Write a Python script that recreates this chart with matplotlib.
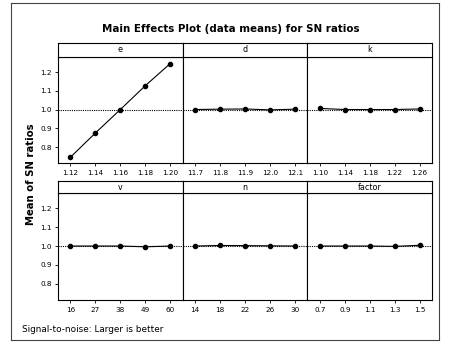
import matplotlib
matplotlib.use("Agg")
import matplotlib.pyplot as plt

factors = ["e", "d", "k", "v", "n", "factor"]
levels_e = ["1.12", "1.14", "1.16", "1.18", "1.20"]
levels_d = ["11.7", "11.8", "11.9", "12.0", "12.1"]
levels_k = ["1.10", "1.14", "1.18", "1.22", "1.26"]
levels_v = ["16", "27", "38", "49", "60"]
levels_n = ["14", "18", "22", "26", "30"]
levels_f = ["0.7", "0.9", "1.1", "1.3", "1.5"]
means_e = [0.746, 0.875, 1.000, 1.127, 1.245]
means_d = [1.000, 1.002, 1.003, 0.998, 1.002]
means_k = [1.006, 1.000, 1.000, 1.000, 1.003]
means_v = [1.000, 1.000, 1.000, 0.996, 1.000]
means_n = [1.000, 1.003, 1.002, 1.001, 1.000]
means_f = [1.000, 1.000, 1.000, 0.998, 1.004]
grand_mean = 1.0
yticks = [0.8, 0.9, 1.0, 1.1, 1.2]

levels = [levels_e, levels_d, levels_k, levels_v, levels_n, levels_f]
means = [means_e, means_d, means_k, means_v, means_n, means_f]

W, H = 449, 343
fig = plt.figure(figsize=(W / 100, H / 100), dpi=100)
plt.rcParams['font.family'] = ['DejaVu Sans']

# outer frame
frame = fig.add_axes([11 / W, 3 / H, 428 / W, 337 / H])
frame.set_xticks([]); frame.set_yticks([])
frame.patch.set_alpha(0)
for s in frame.spines.values():
    s.set_linewidth(0.8)
    s.set_color("#444444")

left = 58 / W
pw = 124.7 / W
rows = [(163, 57, 43), (300, 193, 181)]  # (plot bottom, plot top, header top) px
ylim = (0.715, 1.28)

for i in range(6):
    r, c = divmod(i, 3)
    pb, pt, ht = rows[r]
    x0 = left + c * pw
    ax = fig.add_axes([x0, 1 - pb / H, pw, (pb - pt) / H])
    hx = fig.add_axes([x0, 1 - pt / H, pw, (pt - ht) / H])
    hx.set_xticks([]); hx.set_yticks([])
    hx.text(0.5, 0.5, factors[i], ha="center", va="center", fontsize=5.8)
    for s in hx.spines.values():
        s.set_linewidth(0.8)
    xs = list(range(1, len(levels[i]) + 1))
    ax.axhline(grand_mean, color="black", linestyle=(0, (1, 1)), linewidth=0.8, zorder=1)
    ax.plot(xs, means[i], color="black", linewidth=0.8, marker="o", markersize=3, zorder=2)
    ax.set_xlim(0.5, len(xs) + 0.5)
    ax.set_ylim(*ylim)
    ax.set_xticks(xs)
    ax.set_xticklabels(levels[i], fontsize=5.2)
    ax.tick_params(axis="x", length=2.5, width=0.6, pad=2.5)
    ax.set_yticks(yticks)
    if c == 0:
        ax.set_yticklabels([f"{v:.1f}" for v in yticks], fontsize=5.2)
        ax.tick_params(axis="y", length=2.5, width=0.6, pad=2)
    else:
        ax.tick_params(axis="y", left=False, labelleft=False)
    for s in ax.spines.values():
        s.set_linewidth(0.8)

fig.text(231 / W, 1 - 29 / H, "Main Effects Plot (data means) for SN ratios",
         ha="center", va="center", fontsize=7.4, fontweight="bold")
fig.text(31 / W, 1 - 174 / H, "Mean of SN ratios", rotation=90,
         ha="center", va="center", fontsize=7.3, fontweight="bold")
fig.text(22 / W, 1 - 330 / H, "Signal-to-noise: Larger is better",
         ha="left", va="center", fontsize=6.4)

fig.savefig("out.png", dpi=100)
